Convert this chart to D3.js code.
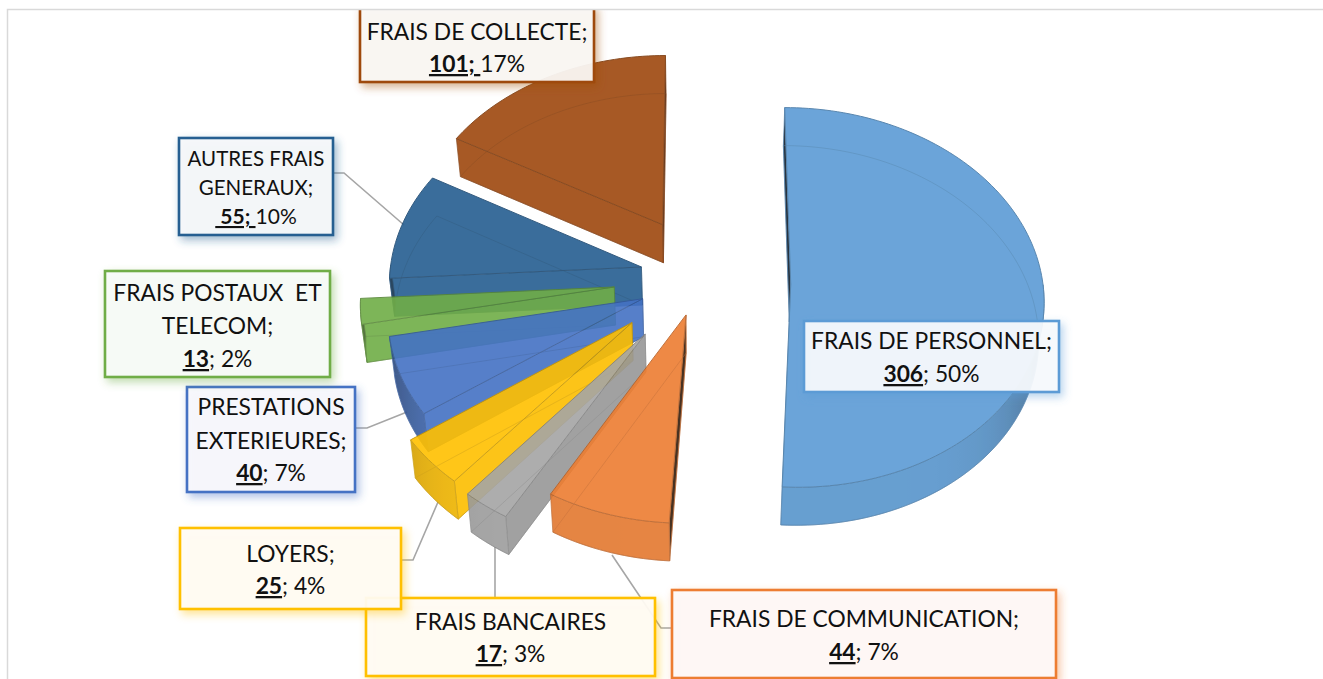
<!DOCTYPE html>
<html><head><meta charset="utf-8">
<script src="https://cdn.jsdelivr.net/npm/d3@7"></script>
<style>html,body{margin:0;padding:0;background:#fff}svg{display:block}text{font-family:Lato,"Noto Sans",sans-serif;fill:#111;white-space:pre}</style>
</head><body><svg id="c" width="1323" height="679"></svg>
<script>
const categories=["FRAIS DE PERSONNEL","FRAIS DE COMMUNICATION","FRAIS BANCAIRES","LOYERS","PRESTATIONS EXTERIEURES","FRAIS POSTAUX ET TELECOM","AUTRES FRAIS GENERAUX","FRAIS DE COLLECTE"];
const values=[306,44,17,25,40,13,55,101];
const percents=["50%","7%","3%","4%","7%","2%","10%","17%"];
const colors=["#5b9bd5","#ed7d31","#a5a5a5","#ffc000","#4472c4","#70ad47","#255e91","#9e480e"];
// explosion of each slice, as a fraction of the radius, and a small screen correction
const explode=[.36,.18,.36,.35,.25,.33,.26,.34];
const nudge=[[0,0],[-1,0],[-2,-5],[-2,-5],[1,-2],[-3,-3],[5,-4],[5,-3]];
// label layout
const labelLines=[["FRAIS DE PERSONNEL;"],["FRAIS DE COMMUNICATION;"],["FRAIS BANCAIRES"],["LOYERS;"],["PRESTATIONS","EXTERIEURES;"],["FRAIS POSTAUX  ET","TELECOM;"],["AUTRES FRAIS","GENERAUX;"],["FRAIS DE COLLECTE;"]];
const valueStyle=[0,0,0,0,0,0,1,1]; // 1: the separator belongs to the bold underlined run
const valuePrefix=["","","","","",""," ",""];
const boxes=[[804,321,255,71],[672,590,384,88],[366,598,289,78],[180,528,221,81],[187,387,168,105],[105,271,225,106],[179,138,154,97],[360,6,234,76]];
const lineY=[[349,382],[627,660],[630,662],[562,594],[415,449,481],[301,334,367],[166,195,224],[40,72]];
const lineSize=[22.8,22.8,22.8,22.8,22.8,22.8,[20.5,20.5,21],22.8];
const boxBorder=["#5b9bd5","#ed7d31","#ffc000","#ffc000","#4472c4","#70ad47","#255e91","#9e480e"];
const leaders=[null,[[612,555],[661,628],[671,628]],[[495,547],[495,598]],[[438,502],[413,560],[401,560]],[[407,412],[367,428],[355,428]],null,[[404,225],[344,173],[333,173]],null];

const cx=700,cy=282,rx=252,ry=188.6,persp=.071,depth=38;
const svg=d3.select("#c");
const defs=svg.append("defs");
boxBorder.forEach((col,i)=>{
  const f=defs.append("filter").attr("id","sh"+i).attr("x","-25%").attr("y","-25%").attr("width","150%").attr("height","150%");
  f.append("feDropShadow").attr("dx",3).attr("dy",4).attr("stdDeviation",4).attr("flood-color",col).attr("flood-opacity",.45);
});
defs.append("clipPath").attr("id","pageClip").append("rect").attr("x",0).attr("y",10).attr("width",1323).attr("height",669);

const pie=d3.pie().sort(null).startAngle(0).endAngle(2*Math.PI).value(d=>d);
const arcs=pie(values);
const lineGen=d3.line();
const black=d3.rgb(0,0,0);
const shade=(c,m)=>d3.interpolateRgb(c,black)(m);

function project(u,v,z){
  const s=1/(1-persp*v);
  let x=cx+u*rx*s,y=cy+v*ry*s;
  if(z){x=cx+(x-cx)*.984;y+=depth;}
  return [x,y];
}
// leaders below the slices
svg.append("g").selectAll("path").data(leaders.filter(Boolean)).join("path")
  .attr("d",d=>lineGen(d)).attr("fill","none").attr("stroke","#a6a6a6").attr("stroke-width",1.6);

const order=d3.range(values.length).reverse();
order.forEach(i=>{
  const a=arcs[i],mid=(a.startAngle+a.endAngle)/2,e=explode[i],c=colors[i];
  const ox=e*Math.sin(mid),oy=-e*Math.cos(mid);
  const P=(t,r,z)=>{const p=project(ox+r*Math.sin(t),oy-r*Math.cos(t),z);return [p[0]+nudge[i][0],p[1]+nudge[i][1]];};
  const n=Math.max(8,Math.ceil((a.endAngle-a.startAngle)*40));
  const ts=d3.range(n+1).map(k=>a.startAngle+(a.endAngle-a.startAngle)*k/n);
  const g=svg.append("g").attr("opacity",.9);
  const line=d3.color(c).darker(.7).formatHex();
  const topPoly=[P(0,0,0),...ts.map(t=>P(t,1,0))];
  const cen=[d3.mean(topPoly,d=>d[0]),d3.mean(topPoly,d=>d[1])];
  // radial faces that face the viewer
  [a.startAngle,a.endAngle].forEach(t=>{
    const A=P(0,0,0),B=P(t,1,0),B2=P(t,1,1),A2=P(0,0,1);
    const side=p=>(B[0]-A[0])*(p[1]-A[1])-(B[1]-A[1])*(p[0]-A[0]);
    const visible=side(cen)*side([B[0],B[1]+depth])<0;
    if(!visible)return;
    const nx=Math.abs(Math.cos(t));
    g.append("path").attr("d",lineGen([A,B,B2,A2])+"Z").attr("fill",shade(c,Math.pow(nx,16)*.8)).attr("stroke",line).attr("stroke-width",.7);
  });
  // front part of the outer wall
  const front=ts.filter(t=>Math.cos(t)<0.02);
  if(front.length>1){
    const id="w"+i,xs=front.map(t=>P(t,1,0)[0]);
    const x0=d3.min(xs),x1=d3.max(xs);
    const gr=defs.append("linearGradient").attr("id",id).attr("gradientUnits","userSpaceOnUse").attr("x1",x0).attr("x2",x1).attr("y1",0).attr("y2",0);
    front.map(t=>({x:P(t,1,0)[0],t})).sort((p,q)=>p.x-q.x).forEach(p=>{
      gr.append("stop").attr("offset",x1>x0?(p.x-x0)/(x1-x0):0).attr("stop-color",shade(c,Math.pow(Math.abs(Math.sin(p.t)),6)*.42+.04));
    });
    const poly=[...front.map(t=>P(t,1,0)),...front.slice().reverse().map(t=>P(t,1,1))];
    g.append("path").attr("d",lineGen(poly)+"Z").attr("fill",`url(#${id})`).attr("stroke",line).attr("stroke-width",.7);
  }
  // top face
  g.append("path").attr("d",lineGen(topPoly)+"Z").attr("fill",c).attr("stroke",line).attr("stroke-width",1);
  // edges of the far side, seen through the slice
  const ghost=[P(a.startAngle,1,1),P(0,0,1),P(a.endAngle,1,1)];
  const ghostArc=ts.map(t=>P(t,1,1));
  g.append("path").attr("d",lineGen(ghost)).attr("fill","none").attr("stroke",line).attr("stroke-opacity",.55).attr("stroke-width",.8);
  g.append("path").attr("d",lineGen(ghostArc)).attr("fill","none").attr("stroke",line).attr("stroke-opacity",.55).attr("stroke-width",.8);
  g.append("path").attr("d",lineGen([P(0,0,0),P(0,0,1)])).attr("fill","none").attr("stroke",line).attr("stroke-opacity",.55).attr("stroke-width",.8);
});

// labels
const lab=svg.append("g").attr("clip-path","url(#pageClip)").selectAll("g").data(categories).join("g");
lab.each(function(_,i){
  const g=d3.select(this),b=boxes[i],ln=labelLines[i];
  g.append("rect").attr("x",b[0]).attr("y",b[1]).attr("width",b[2]).attr("height",b[3])
    .attr("fill",d3.interpolateRgb("#fff",boxBorder[i])(.04)).attr("fill-opacity",.92)
    .attr("stroke",boxBorder[i]).attr("stroke-width",2.6).attr("filter",`url(#sh${i})`);
  const mx=b[0]+b[2]/2;
  const size=k=>Array.isArray(lineSize[i])?lineSize[i][k]:lineSize[i];
  ln.forEach((s,k)=>{
    g.append("text").attr("x",mx).attr("y",lineY[i][k]).attr("text-anchor","middle").attr("font-size",size(k)).text(s);
  });
  const k=ln.length;
  const t=g.append("text").attr("x",mx).attr("y",lineY[i][k]).attr("text-anchor","middle").attr("font-size",size(k));
  const vs=valuePrefix[i]+values[i];
  if(valueStyle[i]){
    t.append("tspan").attr("font-weight",700).attr("text-decoration","underline").text(vs+"; ");
    t.append("tspan").text(percents[i]);
  }else{
    t.append("tspan").attr("font-weight",700).attr("text-decoration","underline").text(vs);
    t.append("tspan").text("; "+percents[i]);
  }
});
// frame
svg.append("path").attr("d","M7.5,679V9.5H1323").attr("fill","none").attr("stroke","#d9d9d9").attr("stroke-width",1.5);
</script></body></html>
